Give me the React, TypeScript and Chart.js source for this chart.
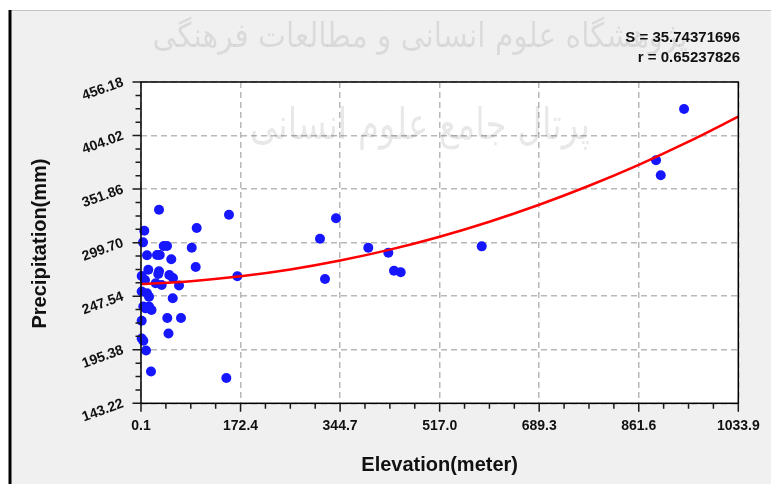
import React, { useEffect, useRef } from "react";
import { Chart, registerables } from "chart.js";

Chart.register(...registerables);

// Observed stations: elevation (m) and precipitation (mm)
const elevation = [
  31.3, 152.4, 5.8, 96.5, 3.6, 39.4, 45.1, 87.9, 10.5, 27.8, 32.5, 52.5, 94.8,
  12.7, 31.3, 30.0, 1.3, 49.1, 55.5, 166.8, 7.0, 25.5, 35.9, 65.9, 1.3, 10.5,
  14.0, 55.0, 4.1, 14.0, 18.3, 8.2, 45.6, 69.3, 1.3, 47.7, 1.3, 4.1, 8.8, 17.4,
  147.8, 337.6, 309.9, 393.5, 428.2, 318.6, 438.0, 449.6, 589.8, 940.0, 891.5,
  899.7,
];
const precipitation = [
  331.8, 326.9, 311.3, 313.9, 300.0, 296.4, 296.4, 294.8, 287.4, 287.7, 287.7,
  283.5, 276.0, 273.3, 271.8, 269.2, 267.2, 268.2, 265.3, 266.9, 263.3, 260.1,
  258.4, 257.9, 252.1, 250.4, 247.0, 245.5, 237.5, 237.5, 234.1, 235.7, 226.3,
  226.3, 223.7, 211.2, 206.3, 204.2, 194.6, 174.2, 167.9, 323.4, 303.5, 294.8,
  289.9, 264.3, 272.4, 270.8, 296.1, 429.9, 379.9, 365.3,
];

// Fitted curve
const fitElevation = [0.1, 86.3, 172.4, 258.6, 344.7, 430.9, 517.0, 603.2, 689.3, 775.5, 861.6, 947.8, 1033.9];
const fitPrecipitation = [259.4, 262.2, 266.9, 273.6, 282.3, 292.9, 305.5, 320.1, 336.6, 355.1, 375.5, 398.0, 422.4];

const xTickLabels = ["0.1", "172.4", "344.7", "517.0", "689.3", "861.6", "1033.9"];
const yTickLabels = ["143.22", "195.38", "247.54", "299.70", "351.86", "404.02", "456.18"];

const statLines = ["S = 35.74371696", "r = 0.65237826"];
const xTitle = "Elevation(meter)";
const yTitle = "Precipitation(mm)";
const watermarkLines = ["پژوهشگاه علوم انسانی و مطالعات فرهنگی", "پرتال جامع علوم انسانی"];

const FONT = '"Liberation Sans", Arial, sans-serif';

const decorPlugin = {
  id: "decor",
  beforeDraw(chart: any) {
    const { ctx, width, height, chartArea } = chart;
    ctx.save();
    ctx.fillStyle = "#ffffff";
    ctx.fillRect(0, 0, width, height);
    ctx.fillStyle = "#f0f0f0";
    ctx.fillRect(10, 10, width - 10, height - 10);
    ctx.strokeStyle = "#c4c4c4";
    ctx.lineWidth = 1;
    ctx.beginPath();
    ctx.moveTo(10, 10.5);
    ctx.lineTo(width, 10.5);
    ctx.stroke();
    ctx.fillStyle = "#000000";
    ctx.fillRect(8.5, 10, 3, height - 10);
    ctx.fillStyle = "#ffffff";
    ctx.fillRect(chartArea.left, chartArea.top, chartArea.right - chartArea.left, chartArea.bottom - chartArea.top);
    ctx.restore();
  },
  beforeDatasetsDraw(chart: any) {
    const { ctx } = chart;
    ctx.save();
    ctx.fillStyle = "rgba(0,0,0,0.09)";
    ctx.textAlign = "center";
    ctx.textBaseline = "middle";
    const specs = [
      { cx: 420, cy: 38, w: 535, size: 34 },
      { cx: 420, cy: 128, w: 340, size: 44 },
    ];
    watermarkLines.forEach((t, i) => {
      const s = specs[i];
      ctx.font = `${s.size}px "DejaVu Sans", sans-serif`;
      const m = ctx.measureText(t).width;
      ctx.save();
      ctx.translate(s.cx, s.cy);
      ctx.scale(s.w / m, 1);
      ctx.fillText(t, 0, 0);
      ctx.restore();
    });
    ctx.restore();
  },
  afterDraw(chart: any) {
    const { ctx, chartArea, scales } = chart;
    const xs = scales.x;
    const ys = scales.y;
    ctx.save();
    // frame
    ctx.strokeStyle = "#000000";
    ctx.lineWidth = 1.5;
    ctx.strokeRect(chartArea.left, chartArea.top, chartArea.right - chartArea.left, chartArea.bottom - chartArea.top);
    // tick marks (major + minor)
    ctx.strokeStyle = "#1a1a1a";
    ctx.lineWidth = 1.5;
    const xv = xTickLabels.map(Number);
    const yv = yTickLabels.map(Number);
    ctx.beginPath();
    for (let i = 0; i < xv.length; i++) {
      const px = xs.getPixelForValue(xv[i]);
      ctx.moveTo(px, chartArea.bottom);
      ctx.lineTo(px, chartArea.bottom + 8.5);
      if (i < xv.length - 1) {
        for (let k = 1; k < 4; k++) {
          const mx = xs.getPixelForValue(xv[i] + ((xv[i + 1] - xv[i]) * k) / 4);
          ctx.moveTo(mx, chartArea.bottom);
          ctx.lineTo(mx, chartArea.bottom + 5.5);
        }
      }
    }
    for (let i = 0; i < yv.length; i++) {
      const py = ys.getPixelForValue(yv[i]);
      ctx.moveTo(chartArea.left, py);
      ctx.lineTo(chartArea.left - 8.5, py);
      if (i < yv.length - 1) {
        for (let k = 1; k < 4; k++) {
          const my = ys.getPixelForValue(yv[i] + ((yv[i + 1] - yv[i]) * k) / 4);
          ctx.moveTo(chartArea.left, my);
          ctx.lineTo(chartArea.left - 5.5, my);
        }
      }
    }
    ctx.stroke();
    // axis titles
    ctx.fillStyle = "#111111";
    ctx.font = `bold 20px ${FONT}`;
    ctx.textAlign = "center";
    ctx.textBaseline = "alphabetic";
    ctx.fillText(xTitle, (chartArea.left + chartArea.right) / 2, 471);
    ctx.save();
    ctx.translate(46, 243.5);
    ctx.rotate(-Math.PI / 2);
    ctx.fillText(yTitle, 0, 0);
    ctx.restore();
    // stats
    ctx.font = `bold 15px ${FONT}`;
    ctx.textAlign = "right";
    ctx.fillText(statLines[0], 740, 42);
    ctx.fillText(statLines[1], 740, 62);
    ctx.restore();
  },
};

export default function App() {
  const ref = useRef<HTMLCanvasElement | null>(null);
  useEffect(() => {
    document.body.style.margin = "0";
    const canvas = ref.current;
    if (!canvas) return;
    const chart = new Chart(canvas, {
      type: "scatter",
      data: {
        datasets: [
          {
            label: "fit",
            data: fitElevation.map((x, i) => ({ x, y: fitPrecipitation[i] })),
            showLine: true,
            borderColor: "#ff0000",
            borderWidth: 2.5,
            pointRadius: 0,
            tension: 0.4,
            cubicInterpolationMode: "monotone",
            fill: false,
          } as any,
          {
            label: "stations",
            data: elevation.map((x, i) => ({ x, y: precipitation[i] })),
            backgroundColor: "rgb(22,22,255)",
            borderWidth: 0,
            pointRadius: 5,
            clip: false,
          } as any,
        ],
      },
      options: {
        animation: false,
        responsive: false,
        maintainAspectRatio: false,
        events: [],
        layout: { padding: { left: 0, top: 82, right: 771 - 738.3, bottom: 0 } },
        plugins: {
          legend: { display: false },
          tooltip: { enabled: false },
          title: { display: false },
        },
        scales: {
          x: {
            type: "linear",
            position: "bottom",
            min: 0.1,
            max: 1033.9,
            afterBuildTicks: (s: any) => {
              s.ticks = xTickLabels.map((l) => ({ value: Number(l) }));
            },
            afterFit: (s: any) => {
              s.height = 484 - 403.3;
            },
            ticks: {
              autoSkip: false,
              minRotation: 0,
              maxRotation: 0,
              padding: 4,
              color: "#111111",
              font: { family: FONT, size: 14, weight: "bold" },
              callback: (_v: any, i: number) => xTickLabels[i],
            },
            grid: { color: "#b8b8b8", lineWidth: 1.5, drawTicks: true, tickLength: 10, tickColor: "rgba(0,0,0,0)" },
            border: { display: false, dash: [6, 4] },
          } as any,
          y: {
            type: "linear",
            position: "left",
            min: 143.22,
            max: 456.18,
            afterBuildTicks: (s: any) => {
              s.ticks = yTickLabels.map((l) => ({ value: Number(l) }));
            },
            afterFit: (s: any) => {
              s.width = 141;
            },
            ticks: {
              autoSkip: false,
              minRotation: 20,
              maxRotation: 20,
              padding: 18,
              color: "#111111",
              font: { family: FONT, size: 14, weight: "bold" },
              callback: (_v: any, i: number) => yTickLabels[i],
            },
            grid: { color: "#b8b8b8", lineWidth: 1.5, drawTicks: false },
            border: { display: false, dash: [6, 4] },
          } as any,
        },
      },
      plugins: [decorPlugin],
    });
    return () => chart.destroy();
  }, []);
  return <canvas ref={ref} width={771} height={484} style={{ display: "block" }} />;
}
